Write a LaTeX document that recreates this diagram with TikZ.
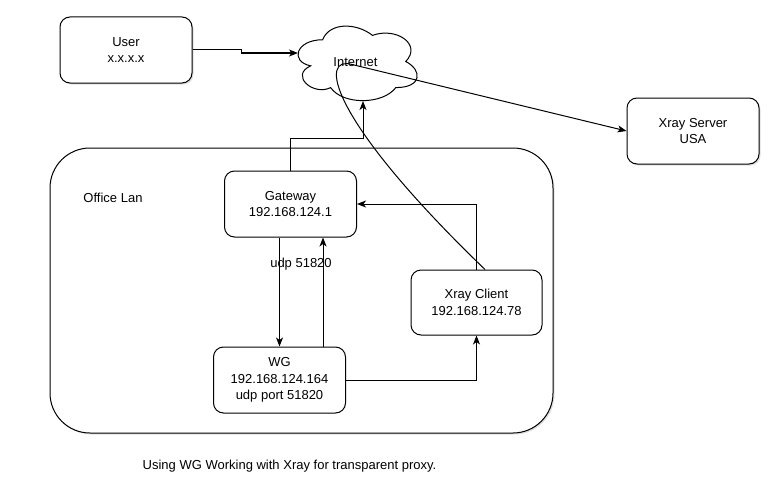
\documentclass[tikz,border=0pt]{standalone}
\usepackage{fontspec}
\setmainfont{Liberation Sans}
\usetikzlibrary{arrows.meta,shadows}
\begin{document}
\begin{tikzpicture}[x=1pt,y=-1pt,
  txt/.style={font=\fontsize{13}{16.5}\selectfont,align=center},
  box/.style={txt,draw,line width=1pt,rounded corners=10pt,inner sep=0pt,minimum width=132pt,minimum height=66pt},
  shad/.style={drop shadow={shadow xshift=1.5pt,shadow yshift=-1.5pt,opacity=0.25}},
  arr/.style={line width=1pt,-{Stealth[length=9pt,width=7pt,inset=2.5pt]}},
  cloudline/.style={line width=1pt}]
\useasboundingbox (0,0) rectangle (775,487);
\fill[white] (0,0) rectangle (775,487);
% container
\node[draw,line width=1pt,rounded corners=40pt,minimum width=503pt,minimum height=285pt,inner sep=0pt,shad,fill=white] (lan) at (301.5,290.5) {};
\node[txt] (lanlbl) at (113,198) {Office Lan};
% nodes
\node[box,shad,fill=white] (user) at (126,50) {User\\x.x.x.x};
\node[box,shad,fill=white] (xs) at (693,131) {Xray Server\\USA};
\node[box] (gw) at (290.5,204) {Gateway\\192.168.124.1};
\node[box] (wg) at (279.5,380) {WG\\192.168.124.164\\udp port 51820};
\node[box,minimum width=131pt,minimum height=65pt] (xc) at (476.5,302.5) {Xray Client\\192.168.124.78};
% cloud (drawn as shape)
\begin{scope}[shift={(289.4,18)},xscale=133,yscale=87]
\draw[cloudline,fill=white]
  (0.25,0.25) .. controls (0.05,0.25) and (0,0.5) .. (0.16,0.55)
  .. controls (0,0.66) and (0.18,0.9) .. (0.31,0.8)
  .. controls (0.4,1) and (0.7,1) .. (0.8,0.8)
  .. controls (1,0.8) and (1,0.6) .. (0.875,0.5)
  .. controls (1,0.3) and (0.8,0.1) .. (0.625,0.2)
  .. controls (0.5,0.05) and (0.3,0.05) .. (0.25,0.25) -- cycle;
\end{scope}
\node[txt] (inet) at (355.5,62) {Internet};
\node[txt] (cap) at (289.5,466) {Using WG Working with Xray for transparent proxy.};
\node[txt] (udp) at (301,264) {udp 51820};
% coordinates
\coordinate (inetIn) at (298,53);
\coordinate (inetBot) at (363,101);
\coordinate (bend) at (352,64.5);
% connectors
\draw[arr] (user.east) -- (241,50) -- (241,53) -- (inetIn);
\draw[arr] (gw.north) -- (290.5,138) -| (inetBot);
\draw[arr] (xc.north) |- (gw.east);
\draw[arr] (gw.south -| wg.north) -- (wg.north);
\draw[arr] ([xshift=43.5pt]wg.north) -- ([xshift=32.5pt]gw.south);
\draw[arr] (wg.east) -| (xc.south);
\draw[arr] ([xshift=8.5pt]xc.north) .. controls (325,115) and (320,55) .. (bend) -- (xs.west);
\end{tikzpicture}
\end{document}
